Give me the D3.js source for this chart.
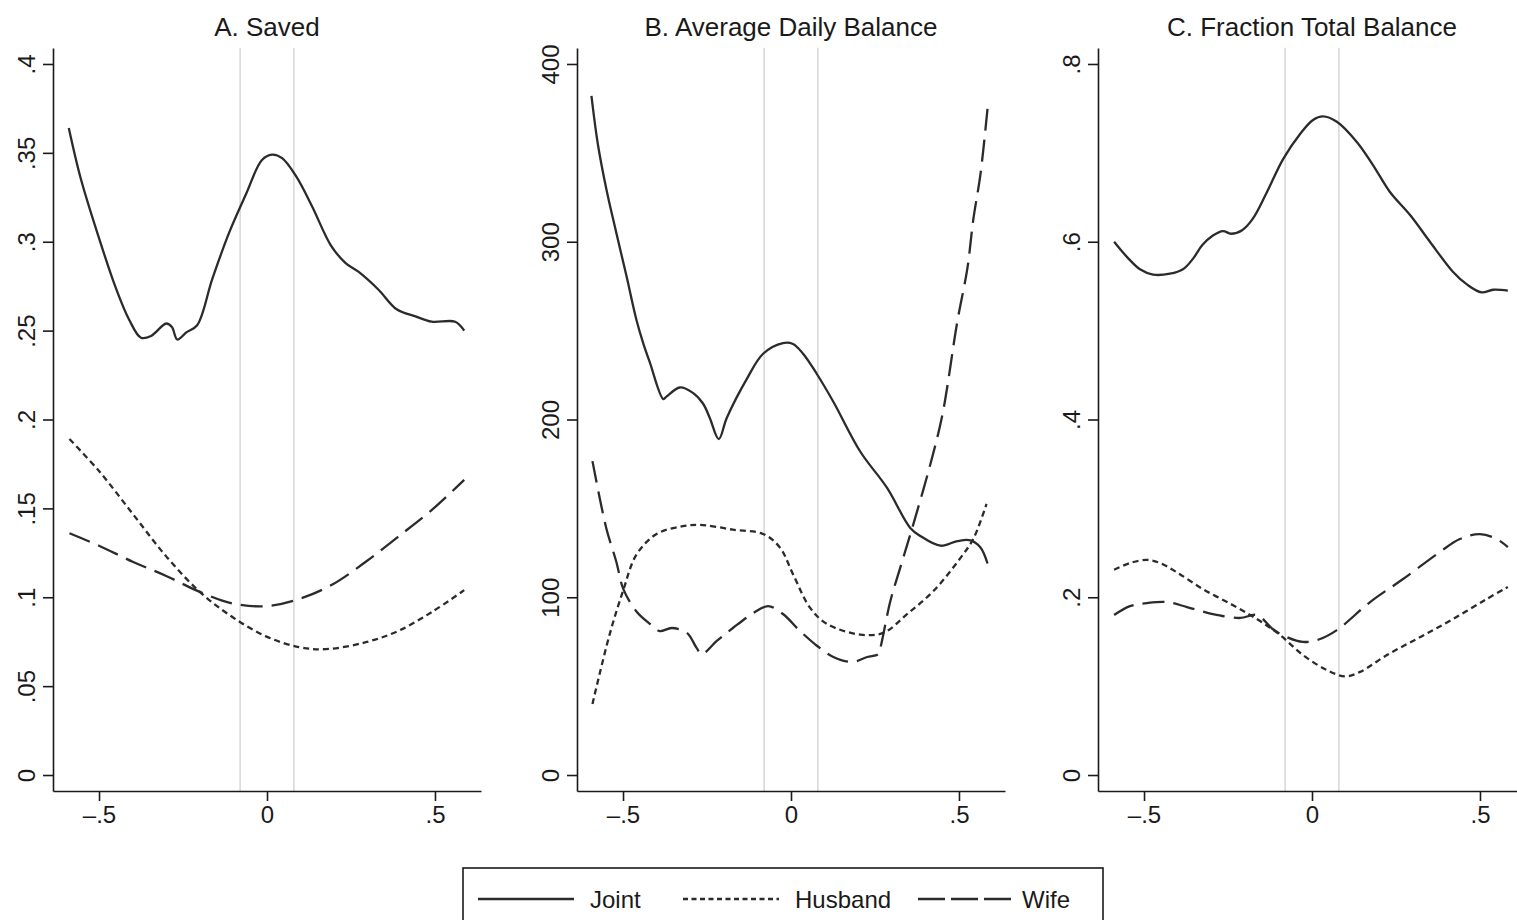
<html lang="en">
  <head>
    <meta charset="UTF-8" />
    <title>Saved / Average Daily Balance / Fraction Total Balance</title>
    <script src="https://cdn.jsdelivr.net/npm/d3@7"></script>
  </head>
  <style>
    body {
      margin: 0px;
      overflow: hidden;
      background: #fff;
    }
    text {
      font-family: "Liberation Sans", Arial, Helvetica, sans-serif;
      fill: #1a1a1a;
    }
    .axis path,
    .axis line {
      stroke: #1a1a1a;
      stroke-width: 1.6px;
    }
    .curve {
      fill: none;
      stroke: #2b2b2b;
      stroke-width: 2.3px;
    }
  </style>
  <body>
    <svg width="1517" height="920"></svg>
    <script>
      // panel titles and tick labels
      var titles = ["A. Saved", "B. Average Daily Balance", "C. Fraction Total Balance"];
      var xTicks = [-0.5, 0, 0.5];
      var xTickLabels = ["\u2013.5", "0", ".5"];
      var yTicksA = [0, 0.05, 0.1, 0.15, 0.2, 0.25, 0.3, 0.35, 0.4];
      var yTickLabelsA = ["0", ".05", ".1", ".15", ".2", ".25", ".3", ".35", ".4"];
      var yTicksB = [0, 100, 200, 300, 400];
      var yTickLabelsB = ["0", "100", "200", "300", "400"];
      var yTicksC = [0, 0.2, 0.4, 0.6, 0.8];
      var yTickLabelsC = ["0", ".2", ".4", ".6", ".8"];
      var bandwidthLines = [-0.08, 0.08];
      var seriesNames = ["Joint", "Husband", "Wife"];

      // A. Saved
      var savedJoint = [
        [-0.59, 0.364], [-0.555, 0.336], [-0.5, 0.302], [-0.45, 0.274], [-0.41, 0.256],
        [-0.375, 0.246], [-0.345, 0.247], [-0.3, 0.254], [-0.283, 0.252], [-0.267, 0.245],
        [-0.24, 0.249], [-0.208, 0.253], [-0.163, 0.279], [-0.113, 0.305], [-0.062, 0.327],
        [-0.015, 0.346], [0.015, 0.349], [0.045, 0.347], [0.086, 0.337], [0.134, 0.32],
        [0.19, 0.298], [0.234, 0.288], [0.273, 0.283], [0.332, 0.273], [0.386, 0.262],
        [0.442, 0.258], [0.49, 0.255], [0.56, 0.255], [0.587, 0.25]
      ];
      var savedHusband = [
        [-0.588, 0.189], [-0.5, 0.171], [-0.4, 0.147], [-0.3, 0.123], [-0.2, 0.103],
        [-0.104, 0.089], [-0.003, 0.078], [0.095, 0.072], [0.175, 0.0708], [0.294, 0.0747],
        [0.39, 0.081], [0.49, 0.0916], [0.587, 0.104]
      ];
      var savedWife = [
        [-0.588, 0.136], [-0.5, 0.129], [-0.4, 0.12], [-0.3, 0.112], [-0.2, 0.103],
        [-0.104, 0.0966], [-0.003, 0.095], [0.095, 0.099], [0.193, 0.107], [0.294, 0.12],
        [0.39, 0.134], [0.49, 0.149], [0.587, 0.166]
      ];

      // B. Average Daily Balance
      var balanceJoint = [
        [-0.594, 382], [-0.575, 355], [-0.55, 330], [-0.52, 305], [-0.49, 281],
        [-0.46, 256], [-0.44, 243], [-0.42, 232], [-0.38, 211.5], [-0.37, 213],
        [-0.331, 218], [-0.292, 215], [-0.262, 209], [-0.242, 201], [-0.215, 189],
        [-0.191, 201], [-0.131, 223], [-0.083, 237], [-0.024, 243], [0.006, 242.5],
        [0.036, 237], [0.077, 225.6], [0.126, 210], [0.206, 182], [0.286, 161.5],
        [0.355, 139], [0.385, 134.5], [0.445, 129], [0.495, 131.6], [0.534, 132],
        [0.564, 128], [0.585, 119]
      ];
      var balanceHusband = [
        [-0.591, 40], [-0.54, 79], [-0.5, 103.5], [-0.46, 124], [-0.4, 135.6],
        [-0.322, 140], [-0.262, 140.6], [-0.173, 138], [-0.083, 135.6], [-0.033, 128],
        [0.006, 113], [0.057, 94], [0.107, 85], [0.206, 79], [0.275, 80],
        [0.346, 90.6], [0.424, 103.5], [0.504, 122], [0.543, 133], [0.582, 152.5]
      ];
      var balanceWife = [
        [-0.591, 176.6], [-0.55, 139], [-0.52, 120], [-0.499, 104.6], [-0.46, 92],
        [-0.42, 85], [-0.391, 81], [-0.355, 82.7], [-0.31, 80], [-0.281, 71.5],
        [-0.266, 68], [-0.221, 75.4], [-0.173, 82.7], [-0.113, 91], [-0.068, 95],
        [-0.024, 90.6], [0.027, 81], [0.078, 72.6], [0.126, 66.4], [0.182, 63.6],
        [0.227, 66.4], [0.26, 68], [0.266, 71.5], [0.296, 98], [0.325, 116.5],
        [0.364, 141], [0.415, 175], [0.451, 203], [0.495, 255], [0.525, 285],
        [0.543, 313], [0.564, 338], [0.585, 375]
      ];

      // C. Fraction Total Balance
      var fractionJoint = [
        [-0.589, 0.6], [-0.551, 0.583], [-0.512, 0.569], [-0.473, 0.563], [-0.423, 0.564],
        [-0.384, 0.569], [-0.354, 0.581], [-0.327, 0.596], [-0.295, 0.607], [-0.265, 0.612],
        [-0.241, 0.609], [-0.208, 0.613], [-0.176, 0.626], [-0.134, 0.656], [-0.086, 0.693],
        [-0.036, 0.721], [0.003, 0.737], [0.033, 0.741], [0.074, 0.735], [0.134, 0.712],
        [0.182, 0.686], [0.232, 0.656], [0.292, 0.63], [0.351, 0.6], [0.42, 0.566],
        [0.461, 0.552], [0.505, 0.543], [0.539, 0.546], [0.583, 0.545]
      ];
      var fractionHusband = [
        [-0.589, 0.231], [-0.542, 0.2385], [-0.491, 0.242], [-0.452, 0.2385], [-0.402, 0.228],
        [-0.324, 0.209], [-0.235, 0.191], [-0.164, 0.1755], [-0.095, 0.1575], [-0.027, 0.135],
        [0.045, 0.118], [0.098, 0.111], [0.143, 0.116], [0.223, 0.135], [0.321, 0.155],
        [0.42, 0.1755], [0.52, 0.198], [0.583, 0.2115]
      ];
      var fractionWife = [
        [-0.589, 0.18], [-0.542, 0.19], [-0.491, 0.1935], [-0.432, 0.1946], [-0.372, 0.189],
        [-0.295, 0.181], [-0.214, 0.1767], [-0.164, 0.18], [-0.116, 0.164], [-0.074, 0.155],
        [-0.027, 0.1497], [0.024, 0.153], [0.074, 0.163], [0.173, 0.1946], [0.271, 0.2205],
        [0.381, 0.251], [0.44, 0.2655], [0.5, 0.271], [0.55, 0.2655], [0.583, 0.2565]
      ];

      var svg = d3.select("svg");
      var dashes = { Joint: null, Husband: "6,4", Wife: "22,9" };

      var panels = [
        { title: titles[0], left: 53, top: 0.4, ticks: yTicksA, labels: yTickLabelsA,
          series: [savedJoint, savedHusband, savedWife] },
        { title: titles[1], left: 577, top: 400, ticks: yTicksB, labels: yTickLabelsB,
          series: [balanceJoint, balanceHusband, balanceWife] },
        { title: titles[2], left: 1098, top: 0.8, ticks: yTicksC, labels: yTickLabelsC,
          series: [fractionJoint, fractionHusband, fractionWife] }
      ];

      var plotTop = 48;
      var plotBottom = 791;
      var plotWidth = 428;
      var pad = 16 / 712; // gap between end ticks and the frame

      panels.forEach(function (p) {
        var x = d3.scaleLinear().domain([-0.637, 0.637]).range([p.left, p.left + plotWidth]);
        var y = d3
          .scaleLinear()
          .domain([-pad * p.top, p.top * (1 + pad)])
          .range([plotBottom, plotTop]);

        var g = svg.append("g");

        // bandwidth markers
        g.selectAll("line.bw")
          .data(bandwidthLines)
          .enter()
          .append("line")
          .attr("x1", function (d) { return x(d); })
          .attr("x2", function (d) { return x(d); })
          .attr("y1", plotTop)
          .attr("y2", plotBottom)
          .attr("stroke", "#dadada")
          .attr("stroke-width", 1.6);

        var line = d3
          .line()
          .x(function (d) { return x(d[0]); })
          .y(function (d) { return y(d[1]); })
          .curve(d3.curveCatmullRom.alpha(0.5));

        p.series.forEach(function (s, i) {
          g.append("path")
            .attr("class", "curve")
            .attr("d", line(s))
            .attr("stroke-dasharray", dashes[seriesNames[i]]);
        });

        // y axis, labels turned on their side
        var yAxis = g
          .append("g")
          .attr("class", "axis")
          .attr("transform", `translate(${p.left}, 0)`)
          .call(
            d3.axisLeft(y)
              .tickValues(p.ticks)
              .tickFormat(function (d, i) { return p.labels[i]; })
              .tickSize(10)
              .tickSizeOuter(0)
          );
        yAxis.selectAll("text")
          .attr("transform", "rotate(-90)")
          .attr("x", 0)
          .attr("y", -18)
          .attr("dy", 0)
          .attr("text-anchor", "middle")
          .style("font-size", "24px");

        var xAxis = g
          .append("g")
          .attr("class", "axis")
          .attr("transform", `translate(0, ${plotBottom})`)
          .call(
            d3.axisBottom(x)
              .tickValues(xTicks)
              .tickFormat(function (d, i) { return xTickLabels[i]; })
              .tickSize(10)
              .tickSizeOuter(0)
              .tickPadding(5)
          );
        xAxis.selectAll("text").style("font-size", "24px");
        g.selectAll(".axis text").attr("fill", "#1a1a1a");

        g.append("text")
          .attr("x", x(0))
          .attr("y", 36)
          .attr("text-anchor", "middle")
          .style("font-size", "26px")
          .text(p.title);
      });

      // legend
      var legend = svg.append("g");
      legend.append("rect")
        .attr("x", 463)
        .attr("y", 868)
        .attr("width", 640)
        .attr("height", 70)
        .attr("fill", "none")
        .attr("stroke", "#1a1a1a")
        .attr("stroke-width", 1.6);

      var legendX = [478, 683, 918];
      var legendDash = { Joint: null, Husband: "5,3.5", Wife: "27,6" };
      seriesNames.forEach(function (name, i) {
        legend.append("line")
          .attr("class", "curve")
          .attr("x1", legendX[i])
          .attr("x2", legendX[i] + 96)
          .attr("y1", 899)
          .attr("y2", 899)
          .attr("stroke-dasharray", legendDash[name]);
        legend.append("text")
          .attr("x", legendX[i] + (i === 2 ? 104 : 112))
          .attr("y", 908)
          .style("font-size", "24px")
          .text(name);
      });
    </script>
  </body>
</html>
